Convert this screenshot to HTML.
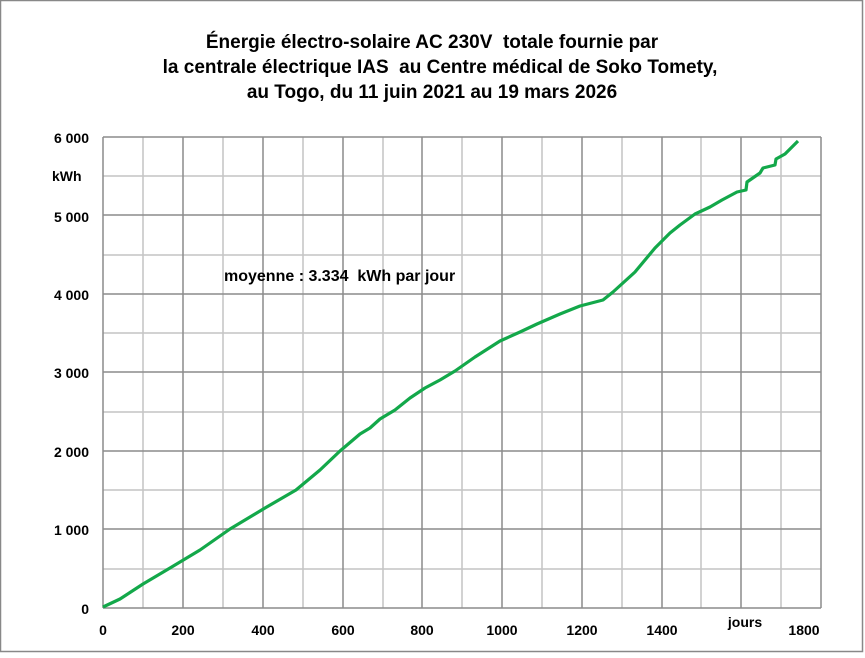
<!DOCTYPE html>
<html><head><meta charset="utf-8"><style>
body{margin:0;width:865px;height:653px;background:#fff;overflow:hidden}
</style></head><body>
<svg width="865" height="653" xmlns="http://www.w3.org/2000/svg" font-family="Liberation Sans, sans-serif" font-weight="bold">
<rect x="0.5" y="0.5" width="862" height="651" fill="#fff" stroke="#888" stroke-width="1.5"/>
<g font-size="19" text-anchor="middle" fill="#000">
<text x="432" y="48">Énergie électro-solaire AC 230V&#160; totale fournie par</text>
<text x="440" y="73">la centrale électrique IAS&#160; au Centre médical de Soko Tomety,</text>
<text x="432" y="98">au Togo, du 11 juin 2021 au 19 mars 2026</text>
</g>
<g stroke="#c4c4c4" stroke-width="1.5">
<line x1="143" y1="137" x2="143" y2="608"/><line x1="223" y1="137" x2="223" y2="608"/>
<line x1="303" y1="137" x2="303" y2="608"/><line x1="383" y1="137" x2="383" y2="608"/>
<line x1="462" y1="137" x2="462" y2="608"/><line x1="542" y1="137" x2="542" y2="608"/>
<line x1="622" y1="137" x2="622" y2="608"/><line x1="701" y1="137" x2="701" y2="608"/>
<line x1="781" y1="137" x2="781" y2="608"/>
<line x1="103" y1="176" x2="821" y2="176"/><line x1="103" y1="255" x2="821" y2="255"/>
<line x1="103" y1="333" x2="821" y2="333"/><line x1="103" y1="412" x2="821" y2="412"/>
<line x1="103" y1="490" x2="821" y2="490"/><line x1="103" y1="569" x2="821" y2="569"/>
</g>
<g stroke="#8c8c8c" stroke-width="1.5">
<line x1="183" y1="137" x2="183" y2="608"/><line x1="263" y1="137" x2="263" y2="608"/>
<line x1="343" y1="137" x2="343" y2="608"/><line x1="422" y1="137" x2="422" y2="608"/>
<line x1="502" y1="137" x2="502" y2="608"/><line x1="582" y1="137" x2="582" y2="608"/>
<line x1="662" y1="137" x2="662" y2="608"/><line x1="741" y1="137" x2="741" y2="608"/>
<line x1="103" y1="137" x2="821" y2="137"/><line x1="103" y1="215" x2="821" y2="215"/>
<line x1="103" y1="294" x2="821" y2="294"/><line x1="103" y1="372" x2="821" y2="372"/>
<line x1="103" y1="451" x2="821" y2="451"/><line x1="103" y1="529" x2="821" y2="529"/>
<line x1="103" y1="137" x2="103" y2="608"/><line x1="821" y1="137" x2="821" y2="608"/>
<line x1="103" y1="608" x2="821" y2="608"/>
</g>
<polyline fill="none" stroke="#13a84a" stroke-width="3.2" stroke-linejoin="round" points="103,607 120,599 143,584 170,568 200,550 230,529 265,508 296,490 320,470 340,451 360,434 370,428 380,419 395,410 410,398 425,388 440,380 455,371 475,357 500,341 520,332 537,324 560,314 580,306 603,300 613,292 635,272 655,248 670,233 680,225 695,214 710,207 722,200 737,192 746,190 747,182 760,173 763,168 775,165 776,159 785,154 798,141"/>
<g font-size="14" fill="#000" text-anchor="end">
<text x="89" y="143">6 000</text><text x="89" y="222">5 000</text><text x="89" y="300">4 000</text>
<text x="89" y="378">3 000</text><text x="89" y="457">2 000</text><text x="89" y="535">1 000</text>
<text x="89" y="614">0</text>
</g>
<text x="52" y="181" font-size="14">kWh</text>
<g font-size="14" text-anchor="middle">
<text x="103" y="635">0</text><text x="183" y="635">200</text><text x="263" y="635">400</text>
<text x="343" y="635">600</text><text x="422" y="635">800</text><text x="502" y="635">1000</text>
<text x="582" y="635">1200</text><text x="662" y="635">1400</text><text x="804" y="635">1800</text>
</g>
<text x="745" y="627" font-size="14" text-anchor="middle">jours</text>
<text x="224" y="281" font-size="16">moyenne : 3.334&#160; kWh par jour</text>
</svg>
</body></html>
